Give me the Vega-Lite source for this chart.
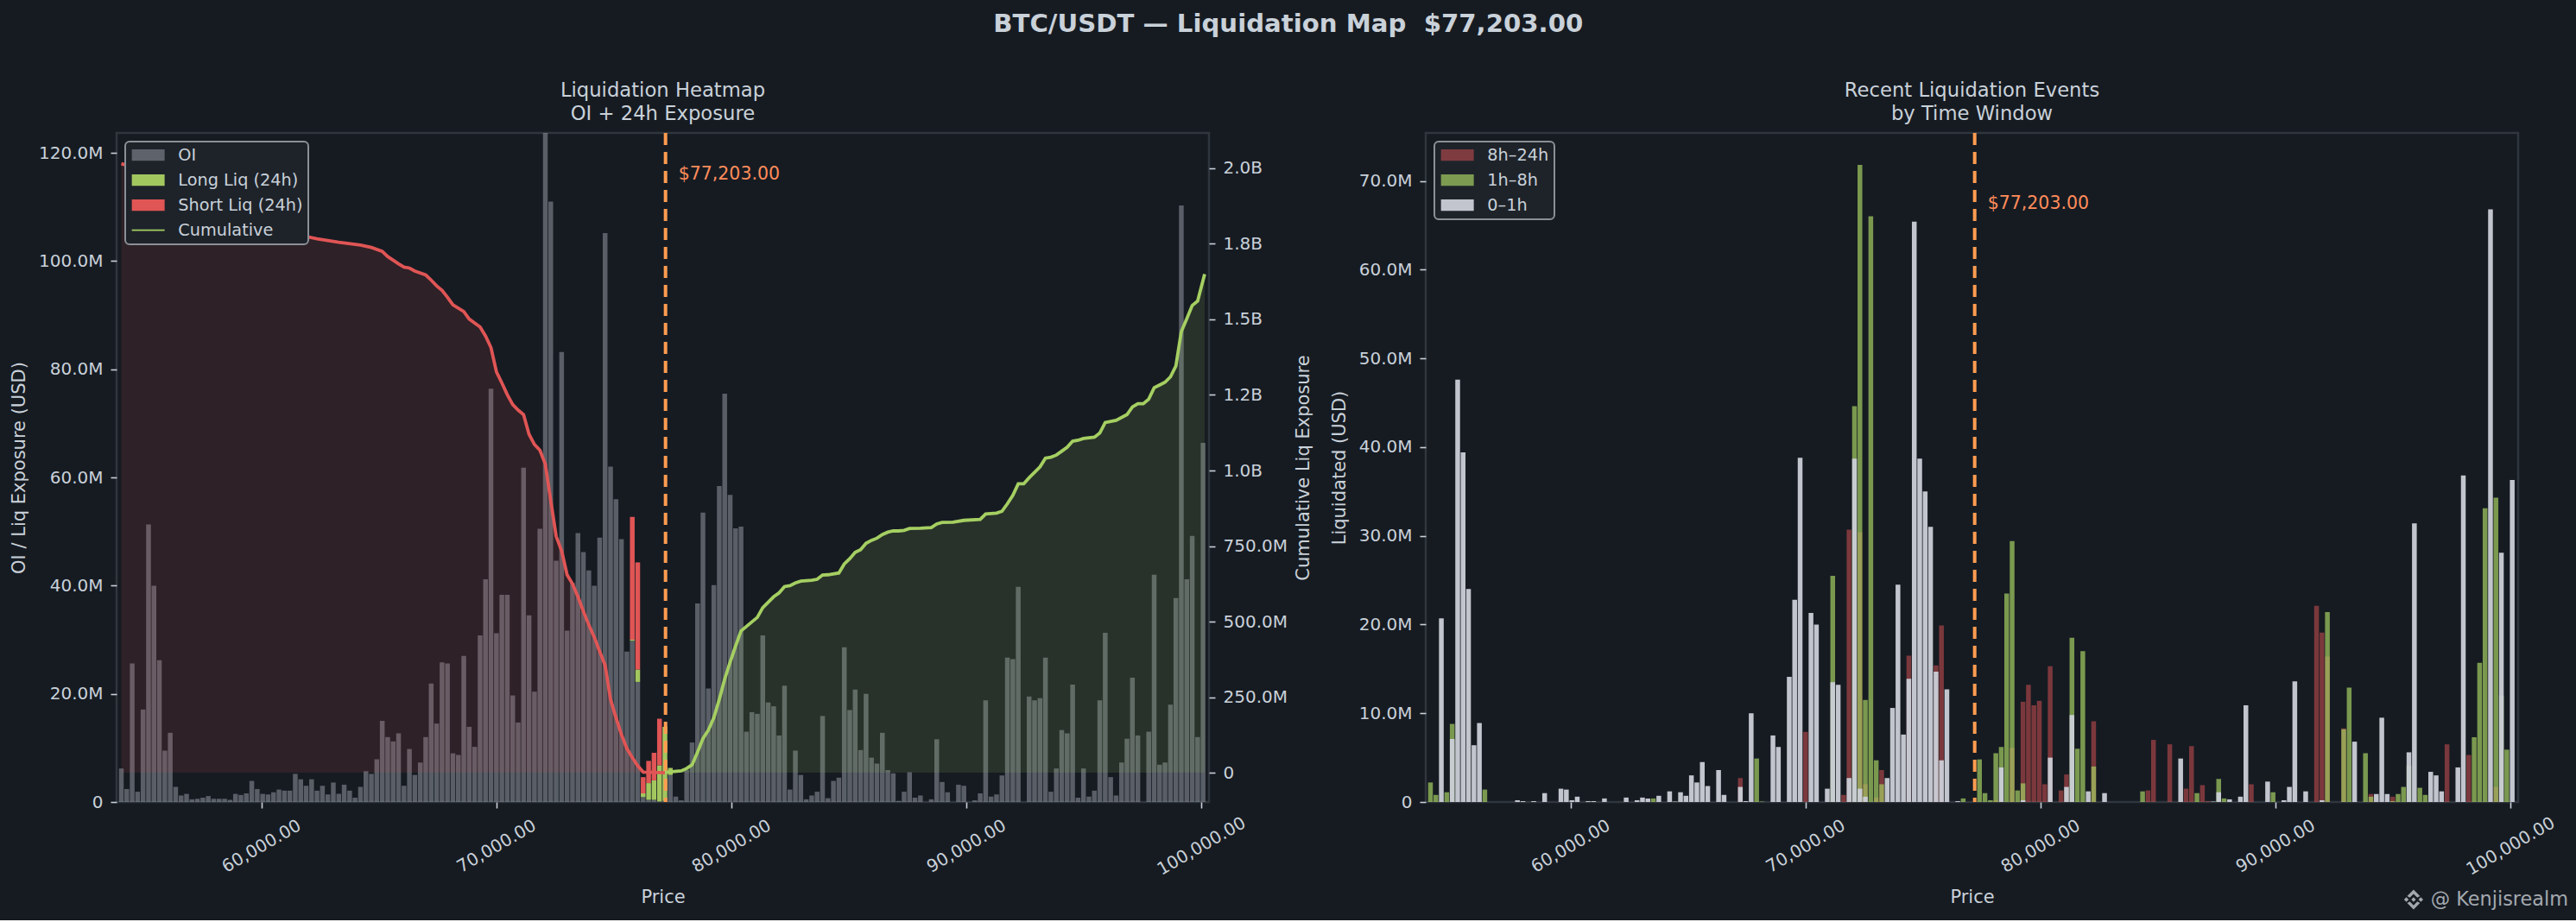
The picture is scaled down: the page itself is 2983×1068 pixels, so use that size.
{
  "$schema": "https://vega.github.io/schema/vega-lite/v6.json",
  "background": "#161b22",
  "padding": {"left": 10, "top": 13, "right": 8, "bottom": 11},
  "bounds": "flush",
  "spacing": 251,
  "resolve": {"scale": {"color": "independent"}, "legend": {"color": "independent"}},
  "title": {
    "text": "BTC/USDT — Liquidation Map \u00a0$77,203.00",
    "fontSize": 29.2,
    "fontWeight": "bold",
    "font": "DejaVu Sans",
    "color": "#c9d1d9",
    "anchor": "middle",
    "offset": 50,
    "dx": -1
  },
  "config": {
    "font": "DejaVu Sans",
    "view": {"stroke": "#30363d", "strokeWidth": 2.5, "fill": "#161b22"},
    "axis": {
      "grid": false,
      "domain": false,
      "tickColor": "#c9d1d9",
      "tickSize": 7,
      "tickWidth": 1.6,
      "labelColor": "#c9d1d9",
      "labelFontSize": 20,
      "labelPadding": 9,
      "titleColor": "#c9d1d9",
      "titleFontSize": 21,
      "titleFontWeight": "normal",
      "labelOverlap": false,
      "labelFlush": false,
      "labelBound": false
    },
    "axisX": {"labelAngle": -30, "labelAlign": "center", "labelBaseline": "middle", "labelPadding": 44, "titlePadding": 11},
    "legend": {
      "orient": "none",
      "title": null,
      "legendX": 10,
      "legendY": 10,
      "padding": 6,
      "fillColor": "#1e232a",
      "strokeColor": "#8b9097",
      "strokeWidth": 2,
      "cornerRadius": 5,
      "labelColor": "#c9d1d9",
      "labelFontSize": 19.3,
      "symbolSize": 361,
      "symbolStrokeWidth": 0,
      "symbolOffset": 11,
      "labelOffset": 25,
      "rowPadding": 9,
      "zindex": 0
    },
    "title": {"font": "DejaVu Sans"}
  },
  "datasets": {
    "spot": [{"price": 77203, "label": "$77,203.00"}],
    "mark": [{"price": 96606, "handle": "@ Kenjisrealm"}],
    "icon": [{"price": 95880}],
    "oi": [
      {"price":54044,"oi":6.2},{"price":54275,"oi":2.4},{"price":54507,"oi":25.6},{"price":54738,"oi":1.9},{"price":54969,"oi":17.1},
      {"price":55201,"oi":51.3},{"price":55432,"oi":40},{"price":55663,"oi":26.2},{"price":55895,"oi":9.5},{"price":56126,"oi":12.8},
      {"price":56357,"oi":2.8},{"price":56589,"oi":1.2},{"price":56820,"oi":1.5},{"price":57051,"oi":0.5},{"price":57283,"oi":0.6},
      {"price":57514,"oi":0.8},{"price":57745,"oi":1.1},{"price":57977,"oi":0.6},{"price":58208,"oi":0.6},{"price":58439,"oi":0.6},
      {"price":58671,"oi":0.4},{"price":58902,"oi":1.5},{"price":59133,"oi":1.3},{"price":59365,"oi":1.6},{"price":59596,"oi":3.9},
      {"price":59827,"oi":2.4},{"price":60059,"oi":1.5},{"price":60290,"oi":1.4},{"price":60521,"oi":1.8},{"price":60753,"oi":2.3},
      {"price":60984,"oi":2.1},{"price":61215,"oi":2.1},{"price":61447,"oi":5.2},{"price":61678,"oi":4.2},{"price":61909,"oi":3},
      {"price":62141,"oi":4.2},{"price":62372,"oi":2.1},{"price":62603,"oi":3},{"price":62835,"oi":1.4},{"price":63066,"oi":3.6},
      {"price":63297,"oi":1.5},{"price":63528,"oi":3.2},{"price":63760,"oi":2.1},{"price":63991,"oi":0.8},{"price":64222,"oi":2.8},
      {"price":64454,"oi":5.7},{"price":64685,"oi":5.2},{"price":64916,"oi":7.9},{"price":65148,"oi":15},{"price":65379,"oi":12},
      {"price":65611,"oi":11.2},{"price":65842,"oi":12.7},{"price":66073,"oi":3},{"price":66304,"oi":9.8},{"price":66536,"oi":5},
      {"price":66767,"oi":7.3},{"price":66998,"oi":12},{"price":67230,"oi":21.9},{"price":67461,"oi":14.5},{"price":67692,"oi":25.8},
      {"price":67924,"oi":25.6},{"price":68155,"oi":9},{"price":68386,"oi":8.7},{"price":68618,"oi":27},{"price":68849,"oi":13.9},
      {"price":69080,"oi":10.2},{"price":69312,"oi":30.8},{"price":69543,"oi":41.2},{"price":69774,"oi":76.4},{"price":70006,"oi":31.2},
      {"price":70237,"oi":38.3},{"price":70468,"oi":38.3},{"price":70700,"oi":19.7},{"price":70931,"oi":14.7},{"price":71162,"oi":61.8},
      {"price":71394,"oi":34.5},{"price":71625,"oi":20.4},{"price":71856,"oi":50.5},{"price":72088,"oi":125},{"price":72319,"oi":111},
      {"price":72550,"oi":44.6},{"price":72782,"oi":83.2},{"price":73013,"oi":31.7},{"price":73244,"oi":40.5},{"price":73476,"oi":49.7},
      {"price":73707,"oi":46.2},{"price":73938,"oi":42.8},{"price":74170,"oi":40},{"price":74401,"oi":48.9},{"price":74632,"oi":105.2},
      {"price":74864,"oi":62},{"price":75095,"oi":56},{"price":75326,"oi":48.6},{"price":75558,"oi":27.8},{"price":75789,"oi":29.8},
      {"price":76020,"oi":22.2},{"price":76252,"oi":0.9},{"price":76483,"oi":0.4},{"price":76714,"oi":0.4},{"price":76946,"oi":0.1},
      {"price":77177,"oi":0.2},{"price":77408,"oi":5},{"price":77640,"oi":1},{"price":77871,"oi":0.3},{"price":78102,"oi":5.9},
      {"price":78334,"oi":11},{"price":78565,"oi":36.7},{"price":78796,"oi":53.5},{"price":79028,"oi":21},{"price":79259,"oi":40.1},
      {"price":79490,"oi":58.4},{"price":79722,"oi":75.5},{"price":79953,"oi":56.8},{"price":80184,"oi":50.6},{"price":80416,"oi":50.9},
      {"price":80647,"oi":13},{"price":80878,"oi":16.6},{"price":81110,"oi":16.3},{"price":81341,"oi":30.8},{"price":81572,"oi":18.4},
      {"price":81804,"oi":17.7},{"price":82035,"oi":12.3},{"price":82266,"oi":21.5},{"price":82498,"oi":2.3},{"price":82729,"oi":9.5},
      {"price":82960,"oi":5},{"price":83192,"oi":0.5},{"price":83423,"oi":1.2},{"price":83654,"oi":1.9},{"price":83886,"oi":15.9},
      {"price":84117,"oi":0.7},{"price":84348,"oi":3.9},{"price":84580,"oi":4.5},{"price":84811,"oi":28.6},{"price":85042,"oi":17},
      {"price":85274,"oi":20.8},{"price":85505,"oi":9.6},{"price":85736,"oi":20},{"price":85968,"oi":8.2},{"price":86199,"oi":7.1},
      {"price":86430,"oi":12.8},{"price":86662,"oi":5.9},{"price":86893,"oi":5.3},{"price":87124,"oi":0.2},{"price":87356,"oi":1.9},
      {"price":87587,"oi":5.5},{"price":87818,"oi":0.8},{"price":88050,"oi":1.2},{"price":88281,"oi":0},{"price":88512,"oi":0.5},
      {"price":88744,"oi":11.6},{"price":88975,"oi":3.7},{"price":89206,"oi":1.8},{"price":89438,"oi":0},{"price":89669,"oi":3.2},
      {"price":89900,"oi":3},{"price":90132,"oi":0},{"price":90363,"oi":0.3},{"price":90594,"oi":1.6},{"price":90826,"oi":18.8},
      {"price":91057,"oi":1},{"price":91288,"oi":1.4},{"price":91520,"oi":4.9},{"price":91751,"oi":26.7},{"price":91982,"oi":26.4},
      {"price":92213,"oi":39.8},{"price":92445,"oi":0},{"price":92676,"oi":19.5},{"price":92907,"oi":18.8},{"price":93139,"oi":19.2},
      {"price":93370,"oi":26.7},{"price":93601,"oi":1.9},{"price":93833,"oi":6.2},{"price":94064,"oi":13.3},{"price":94295,"oi":12.7},
      {"price":94527,"oi":21.7},{"price":94758,"oi":0.8},{"price":94989,"oi":6.2},{"price":95221,"oi":1},{"price":95452,"oi":2.1},
      {"price":95683,"oi":18.8},{"price":95915,"oi":31.3},{"price":96146,"oi":4.6},{"price":96377,"oi":1.2},{"price":96609,"oi":7.3},
      {"price":96840,"oi":11.7},{"price":97071,"oi":23},{"price":97303,"oi":12.3},{"price":97534,"oi":0},{"price":97765,"oi":13},
      {"price":97997,"oi":42},{"price":98228,"oi":6.9},{"price":98459,"oi":7.3},{"price":98691,"oi":18},{"price":98922,"oi":37.7},
      {"price":99153,"oi":110.3},{"price":99385,"oi":41.2},{"price":99616,"oi":49.2},{"price":99847,"oi":12},{"price":100079,"oi":66.4}
    ],
    "liq": [
      {"price":75789,"side":"Long Liq (24h)","lo":29.8,"hi":30},
      {"price":76020,"side":"Long Liq (24h)","lo":22.2,"hi":24.5},
      {"price":76252,"side":"Long Liq (24h)","lo":0.9,"hi":1.6},
      {"price":76483,"side":"Long Liq (24h)","lo":0.4,"hi":3.5},
      {"price":76714,"side":"Long Liq (24h)","lo":0.4,"hi":4},
      {"price":76946,"side":"Long Liq (24h)","lo":0.1,"hi":6.8},
      {"price":77177,"side":"Long Liq (24h)","lo":0.2,"hi":13.9},
      {"price":77408,"side":"Long Liq (24h)","lo":5,"hi":6.3},
      {"price":75789,"side":"Short Liq (24h)","lo":30,"hi":52.7},
      {"price":76020,"side":"Short Liq (24h)","lo":24.5,"hi":44.3},
      {"price":76252,"side":"Short Liq (24h)","lo":1.6,"hi":4.6},
      {"price":76483,"side":"Short Liq (24h)","lo":3.5,"hi":7.6},
      {"price":76714,"side":"Short Liq (24h)","lo":4,"hi":9.1},
      {"price":76946,"side":"Short Liq (24h)","lo":6.8,"hi":15.4}
    ],
    "cum_short": [
      {"price":54044,"cum":2015},{"price":54507,"cum":2005},{"price":54738,"cum":1979},{"price":54969,"cum":1975},{"price":55201,"cum":1959},
      {"price":55432,"cum":1891},{"price":55663,"cum":1864},{"price":55895,"cum":1841},{"price":56126,"cum":1831},{"price":56357,"cum":1818},
      {"price":57051,"cum":1814},{"price":57977,"cum":1811},{"price":59133,"cum":1803},{"price":60290,"cum":1793},{"price":61447,"cum":1782},
      {"price":62372,"cum":1767},{"price":63297,"cum":1755},{"price":64222,"cum":1746},{"price":64685,"cum":1738},{"price":65148,"cum":1725},
      {"price":65379,"cum":1708},{"price":65842,"cum":1684},{"price":66073,"cum":1673},{"price":66304,"cum":1670},{"price":66536,"cum":1660},
      {"price":66998,"cum":1647},{"price":67230,"cum":1630},{"price":67461,"cum":1611},{"price":67692,"cum":1596},{"price":67924,"cum":1573},
      {"price":68155,"cum":1548},{"price":68618,"cum":1526},{"price":68849,"cum":1501},{"price":69312,"cum":1475},{"price":69543,"cum":1445},
      {"price":69774,"cum":1407},{"price":70006,"cum":1327},{"price":70237,"cum":1290},{"price":70468,"cum":1251},{"price":70700,"cum":1218},
      {"price":70931,"cum":1200},{"price":71162,"cum":1185},{"price":71394,"cum":1120},{"price":71625,"cum":1086},{"price":71856,"cum":1067},
      {"price":72088,"cum":1021},{"price":72319,"cum":900},{"price":72550,"cum":782},{"price":72782,"cum":734},{"price":73013,"cum":655},
      {"price":73244,"cum":625},{"price":73476,"cum":582},{"price":73707,"cum":534},{"price":73938,"cum":489},{"price":74170,"cum":449},
      {"price":74401,"cum":401},{"price":74632,"cum":356},{"price":74864,"cum":242},{"price":75095,"cum":182},{"price":75326,"cum":126},
      {"price":75558,"cum":80},{"price":75789,"cum":50},{"price":76020,"cum":23},{"price":76252,"cum":2},{"price":77177,"cum":0}
    ],
    "cum_long": [
      {"price":77177,"cum":1.5},{"price":77871,"cum":6},{"price":78102,"cum":14},{"price":78334,"cum":26},{"price":78565,"cum":68},
      {"price":78796,"cum":113},{"price":79028,"cum":141},{"price":79259,"cum":182},{"price":79490,"cum":242},{"price":79722,"cum":310},
      {"price":79953,"cum":366},{"price":80184,"cum":419},{"price":80416,"cum":469},{"price":80647,"cum":484},{"price":80878,"cum":499},
      {"price":81110,"cum":514},{"price":81341,"cum":546},{"price":81572,"cum":564},{"price":81804,"cum":582},{"price":82035,"cum":595},
      {"price":82266,"cum":616},{"price":82498,"cum":619},{"price":82729,"cum":628},{"price":82960,"cum":634},{"price":83423,"cum":637},
      {"price":83654,"cum":640},{"price":83886,"cum":654},{"price":84117,"cum":655},{"price":84580,"cum":661},{"price":84811,"cum":691},
      {"price":85042,"cum":708},{"price":85274,"cum":729},{"price":85505,"cum":738},{"price":85736,"cum":759},{"price":85968,"cum":769},
      {"price":86199,"cum":776},{"price":86430,"cum":788},{"price":86662,"cum":796},{"price":86893,"cum":800},{"price":87124,"cum":800},
      {"price":87356,"cum":802},{"price":87587,"cum":808},{"price":88050,"cum":809},{"price":88512,"cum":811},{"price":88744,"cum":823},
      {"price":88975,"cum":828},{"price":89438,"cum":829},{"price":89900,"cum":835},{"price":90594,"cum":838},{"price":90826,"cum":856},
      {"price":91288,"cum":859},{"price":91520,"cum":865},{"price":91751,"cum":890},{"price":91982,"cum":918},{"price":92213,"cum":956},
      {"price":92445,"cum":956},{"price":92676,"cum":976},{"price":92907,"cum":994},{"price":93139,"cum":1012},{"price":93370,"cum":1041},
      {"price":93601,"cum":1044},{"price":93833,"cum":1051},{"price":94064,"cum":1064},{"price":94295,"cum":1077},{"price":94527,"cum":1097},
      {"price":94758,"cum":1100},{"price":94989,"cum":1106},{"price":95452,"cum":1110},{"price":95683,"cum":1124},{"price":95915,"cum":1159},
      {"price":96377,"cum":1166},{"price":96840,"cum":1185},{"price":97071,"cum":1210},{"price":97303,"cum":1221},{"price":97534,"cum":1221},
      {"price":97765,"cum":1236},{"price":97997,"cum":1274},{"price":98228,"cum":1283},{"price":98459,"cum":1292},{"price":98691,"cum":1310},
      {"price":98922,"cum":1346},{"price":99153,"cum":1460},{"price":99385,"cum":1502},{"price":99616,"cum":1546},{"price":99847,"cum":1561},
      {"price":100079,"cum":1630},{"price":100146,"cum":1650}
    ],
    "windows": [
      {"price":67230,"window":"8h–24h","usd":2.7},{"price":70006,"window":"8h–24h","usd":7.9},{"price":71625,"window":"8h–24h","usd":0.8},
      {"price":71856,"window":"8h–24h","usd":30.7},{"price":72319,"window":"8h–24h","usd":30.4},{"price":72550,"window":"8h–24h","usd":2},
      {"price":73013,"window":"8h–24h","usd":0.5},{"price":73244,"window":"8h–24h","usd":3.6},{"price":74401,"window":"8h–24h","usd":16.5},
      {"price":75558,"window":"8h–24h","usd":15.4},{"price":75789,"window":"8h–24h","usd":19.9},{"price":78102,"window":"8h–24h","usd":0.2},
      {"price":78796,"window":"8h–24h","usd":6.1},{"price":79259,"window":"8h–24h","usd":11.3},{"price":79490,"window":"8h–24h","usd":13.2},
      {"price":79722,"window":"8h–24h","usd":10.9},{"price":79953,"window":"8h–24h","usd":11.4},{"price":80184,"window":"8h–24h","usd":2},
      {"price":80416,"window":"8h–24h","usd":15.3},{"price":80878,"window":"8h–24h","usd":1.3},{"price":81110,"window":"8h–24h","usd":3.1},
      {"price":82266,"window":"8h–24h","usd":9.1},{"price":84580,"window":"8h–24h","usd":1.3},{"price":84811,"window":"8h–24h","usd":7},
      {"price":85505,"window":"8h–24h","usd":6.5},{"price":86199,"window":"8h–24h","usd":1.5},{"price":86430,"window":"8h–24h","usd":6.3},
      {"price":86893,"window":"8h–24h","usd":1.9},{"price":87124,"window":"8h–24h","usd":0.1},{"price":88975,"window":"8h–24h","usd":2},
      {"price":91751,"window":"8h–24h","usd":22.1},{"price":91982,"window":"8h–24h","usd":19.1},{"price":92213,"window":"8h–24h","usd":16.4},
      {"price":92907,"window":"8h–24h","usd":8.3},{"price":94064,"window":"8h–24h","usd":0.9},{"price":94989,"window":"8h–24h","usd":0.6},
      {"price":97303,"window":"8h–24h","usd":6.5},{"price":98228,"window":"8h–24h","usd":5.3},{"price":99385,"window":"8h–24h","usd":1.7},

      {"price":54044,"window":"1h–8h","usd":2.2},{"price":54275,"window":"1h–8h","usd":0.8},{"price":54738,"window":"1h–8h","usd":1.1},
      {"price":54969,"window":"1h–8h","usd":8.8},{"price":56357,"window":"1h–8h","usd":1.4},{"price":63528,"window":"1h–8h","usd":0.4},
      {"price":67924,"window":"1h–8h","usd":4.9},{"price":68155,"window":"1h–8h","usd":0.05},{"price":71162,"window":"1h–8h","usd":25.5},
      {"price":72088,"window":"1h–8h","usd":44.6},{"price":72319,"window":"1h–8h","usd":71.8},{"price":72550,"window":"1h–8h","usd":11.5},
      {"price":72782,"window":"1h–8h","usd":66},{"price":73013,"window":"1h–8h","usd":4.7},{"price":73244,"window":"1h–8h","usd":2},
      {"price":76714,"window":"1h–8h","usd":0.4},{"price":77408,"window":"1h–8h","usd":4.8},{"price":77640,"window":"1h–8h","usd":1},
      {"price":77871,"window":"1h–8h","usd":0.2},{"price":78102,"window":"1h–8h","usd":5.5},{"price":78334,"window":"1h–8h","usd":6.2},
      {"price":78565,"window":"1h–8h","usd":23.5},{"price":78796,"window":"1h–8h","usd":29.4},{"price":79028,"window":"1h–8h","usd":1.3},
      {"price":79259,"window":"1h–8h","usd":2.1},{"price":81341,"window":"1h–8h","usd":18.5},{"price":81572,"window":"1h–8h","usd":6},
      {"price":81804,"window":"1h–8h","usd":17},{"price":82266,"window":"1h–8h","usd":4},{"price":84348,"window":"1h–8h","usd":1.2},
      {"price":86662,"window":"1h–8h","usd":1},{"price":87587,"window":"1h–8h","usd":2.6},{"price":87818,"window":"1h–8h","usd":0.4},
      {"price":89900,"window":"1h–8h","usd":1.1},{"price":92213,"window":"1h–8h","usd":21.4},{"price":92907,"window":"1h–8h","usd":8.2},
      {"price":93139,"window":"1h–8h","usd":12.9},{"price":93833,"window":"1h–8h","usd":5.5},{"price":94064,"window":"1h–8h","usd":0.6},
      {"price":94989,"window":"1h–8h","usd":0.1},{"price":95221,"window":"1h–8h","usd":0.9},{"price":95452,"window":"1h–8h","usd":1.7},
      {"price":95683,"window":"1h–8h","usd":4.1},{"price":96146,"window":"1h–8h","usd":1.6},{"price":96377,"window":"1h–8h","usd":0.8},
      {"price":98459,"window":"1h–8h","usd":7.3},{"price":98691,"window":"1h–8h","usd":15.7},{"price":98922,"window":"1h–8h","usd":33.1},
      {"price":99385,"window":"1h–8h","usd":34.3},{"price":99616,"window":"1h–8h","usd":12},{"price":99847,"window":"1h–8h","usd":5.9},

      {"price":54507,"window":"0–1h","usd":20.7},{"price":54969,"window":"0–1h","usd":7.1},{"price":55201,"window":"0–1h","usd":47.6},
      {"price":55432,"window":"0–1h","usd":39.4},{"price":55663,"window":"0–1h","usd":24},{"price":55895,"window":"0–1h","usd":6.4},
      {"price":56126,"window":"0–1h","usd":8.9},{"price":57745,"window":"0–1h","usd":0.2},{"price":57977,"window":"0–1h","usd":0.1},
      {"price":58439,"window":"0–1h","usd":0.1},{"price":58902,"window":"0–1h","usd":1},{"price":59596,"window":"0–1h","usd":1.5},
      {"price":59827,"window":"0–1h","usd":1.4},{"price":60059,"window":"0–1h","usd":0.2},{"price":60290,"window":"0–1h","usd":0.6},
      {"price":60753,"window":"0–1h","usd":0.1},{"price":60984,"window":"0–1h","usd":0.1},{"price":61447,"window":"0–1h","usd":0.4},
      {"price":62372,"window":"0–1h","usd":0.5},{"price":62835,"window":"0–1h","usd":0.2},{"price":63066,"window":"0–1h","usd":0.5},
      {"price":63297,"window":"0–1h","usd":0.4},{"price":63760,"window":"0–1h","usd":0.7},{"price":64222,"window":"0–1h","usd":1.2},
      {"price":64454,"window":"0–1h","usd":0.05},{"price":64685,"window":"0–1h","usd":1.1},{"price":64916,"window":"0–1h","usd":0.7},
      {"price":65148,"window":"0–1h","usd":3},{"price":65379,"window":"0–1h","usd":2.2},{"price":65611,"window":"0–1h","usd":4.5},
      {"price":65842,"window":"0–1h","usd":1.8},{"price":66304,"window":"0–1h","usd":3.6},{"price":66536,"window":"0–1h","usd":0.8},
      {"price":67230,"window":"0–1h","usd":1.7},{"price":67461,"window":"0–1h","usd":0.1},{"price":67692,"window":"0–1h","usd":10},
      {"price":68618,"window":"0–1h","usd":7.5},{"price":68849,"window":"0–1h","usd":6.2},{"price":69312,"window":"0–1h","usd":14.1},
      {"price":69543,"window":"0–1h","usd":22.8},{"price":69774,"window":"0–1h","usd":38.8},{"price":70237,"window":"0–1h","usd":21.3},
      {"price":70468,"window":"0–1h","usd":20},{"price":70931,"window":"0–1h","usd":1.5},{"price":71162,"window":"0–1h","usd":13.5},
      {"price":71394,"window":"0–1h","usd":13.2},{"price":71856,"window":"0–1h","usd":2.7},{"price":72088,"window":"0–1h","usd":38.7},
      {"price":72319,"window":"0–1h","usd":1.5},{"price":72550,"window":"0–1h","usd":0.6},{"price":73476,"window":"0–1h","usd":2.7},
      {"price":73707,"window":"0–1h","usd":10.6},{"price":73938,"window":"0–1h","usd":24.5},{"price":74170,"window":"0–1h","usd":7.6},
      {"price":74401,"window":"0–1h","usd":13.9},{"price":74632,"window":"0–1h","usd":65.4},{"price":74864,"window":"0–1h","usd":38.7},
      {"price":75095,"window":"0–1h","usd":35},{"price":75326,"window":"0–1h","usd":31},{"price":75558,"window":"0–1h","usd":14.7},
      {"price":75789,"window":"0–1h","usd":4.7},{"price":76020,"window":"0–1h","usd":12.7},{"price":76483,"window":"0–1h","usd":0.1},
      {"price":78334,"window":"0–1h","usd":3.9},{"price":79259,"window":"0–1h","usd":0.2},{"price":80416,"window":"0–1h","usd":5},
      {"price":81110,"window":"0–1h","usd":1.7},{"price":81341,"window":"0–1h","usd":9.8},{"price":82035,"window":"0–1h","usd":1.2},
      {"price":82729,"window":"0–1h","usd":1},{"price":85968,"window":"0–1h","usd":4.9},{"price":87356,"window":"0–1h","usd":0.05},
      {"price":87587,"window":"0–1h","usd":1.1},{"price":88050,"window":"0–1h","usd":0.3},{"price":88512,"window":"0–1h","usd":0.6},
      {"price":88744,"window":"0–1h","usd":10.9},{"price":89669,"window":"0–1h","usd":2.3},{"price":90363,"window":"0–1h","usd":0.2},
      {"price":90594,"window":"0–1h","usd":1.7},{"price":90826,"window":"0–1h","usd":13.6},{"price":91288,"window":"0–1h","usd":1.2},
      {"price":91982,"window":"0–1h","usd":0.2},{"price":93370,"window":"0–1h","usd":6.8},{"price":94295,"window":"0–1h","usd":0.9},
      {"price":94527,"window":"0–1h","usd":9.5},{"price":94758,"window":"0–1h","usd":0.9},{"price":95683,"window":"0–1h","usd":5.6},
      {"price":95915,"window":"0–1h","usd":31.4},{"price":96609,"window":"0–1h","usd":3.4},{"price":96840,"window":"0–1h","usd":3},
      {"price":97071,"window":"0–1h","usd":1.2},{"price":97765,"window":"0–1h","usd":3.9},{"price":97997,"window":"0–1h","usd":36.8},
      {"price":99153,"window":"0–1h","usd":66.8},{"price":99616,"window":"0–1h","usd":28.1},{"price":100079,"window":"0–1h","usd":36.3}
    ]
  },
  "hconcat": [
    {
      "width": 1265,
      "height": 775,
      "title": {"text": ["Liquidation Heatmap", "OI + 24h Exposure"], "fontSize": 22.7, "fontWeight": "normal", "color": "#c9d1d9", "anchor": "middle", "offset": 8, "lineHeight": 27},
      "layer": [
        {
          "layer": [
            {
              "data": {"name": "oi"},
              "mark": {"type": "bar", "width": 5.5, "clip": true},
              "encoding": {
                "x": {
                  "field": "price", "type": "quantitative", "title": "Price",
                  "scale": {"domain": [54026, 100146], "nice": false, "zero": false},
                  "axis": {"values": [60000, 70000, 80000, 90000, 100000], "format": ",.2f"}
                },
                "y": {
                  "field": "oi", "type": "quantitative", "title": "OI / Liq Exposure (USD)",
                  "scale": {"domain": [0, 123.7], "nice": false},
                  "axis": {"values": [0, 20, 40, 60, 80, 100, 120], "labelExpr": "datum.value === 0 ? '0' : format(datum.value, '.1f') + 'M'", "titlePadding": 12}
                },
                "color": {
                  "datum": "OI", "type": "nominal",
                  "scale": {
                    "domain": ["OI", "Long Liq (24h)", "Short Liq (24h)", "Cumulative"],
                    "range": ["rgba(155,162,172,0.5)", "#a3c75f", "#e05555", "#a5cf62"]
                  },
                  "legend": {
                    "encode": {"symbols": {"update": {"shape": {"signal": "datum.value === 'Cumulative' ? 'M-2,-0.1H2V0.1H-2Z' : 'M-2,-0.7H2V0.7H-2Z'"}}}}
                  }
                }
              }
            },
            {
              "data": {"name": "liq"},
              "mark": {"type": "bar", "width": 5.5, "clip": true},
              "encoding": {
                "x": {"field": "price", "type": "quantitative"},
                "y": {"field": "lo", "type": "quantitative"},
                "y2": {"field": "hi"},
                "color": {"field": "side", "type": "nominal"}
              }
            },
            {
              "data": {"name": "spot"},
              "mark": {"type": "rule", "stroke": "#ff9c50", "strokeWidth": 4, "strokeDash": [14, 8]},
              "encoding": {"x": {"field": "price", "type": "quantitative"}}
            },
            {
              "data": {"name": "spot"},
              "mark": {"type": "text", "color": "#ff8c5a", "fontSize": 20.5, "align": "left", "baseline": "middle", "dx": 15},
              "encoding": {
                "x": {"field": "price", "type": "quantitative"},
                "y": {"datum": 116, "type": "quantitative"},
                "text": {"field": "label"}
              }
            }
          ]
        },
        {
          "layer": [
            {
              "data": {"name": "cum_short"},
              "mark": {"type": "area", "color": "rgba(224,85,85,0.12)", "clip": true},
              "encoding": {
                "x": {"field": "price", "type": "quantitative"},
                "y": {
                  "field": "cum", "type": "quantitative", "title": "Cumulative Liq Exposure",
                  "scale": {"domain": [-97, 2117], "nice": false, "zero": false},
                  "axis": {
                    "orient": "right",
                    "values": [0, 250, 500, 750, 1000, 1250, 1500, 1750, 2000],
                    "labelExpr": "datum.value === 0 ? '0' : datum.value === 1250 ? '1.2B' : datum.value === 1750 ? '1.8B' : datum.value >= 1000 ? format(datum.value / 1000, '.1f') + 'B' : format(datum.value, '.1f') + 'M'",
                    "titleAngle": -90,
                    "titlePadding": 29
                  }
                },
                "y2": {"datum": 0}
              }
            },
            {
              "data": {"name": "cum_long"},
              "mark": {"type": "area", "color": "rgba(165,207,98,0.13)", "clip": true},
              "encoding": {
                "x": {"field": "price", "type": "quantitative"},
                "y": {"field": "cum", "type": "quantitative"},
                "y2": {"datum": 0}
              }
            },
            {
              "data": {"name": "cum_short"},
              "mark": {"type": "line", "stroke": "#e05555", "strokeWidth": 3.8, "clip": true},
              "encoding": {
                "x": {"field": "price", "type": "quantitative"},
                "y": {"field": "cum", "type": "quantitative"}
              }
            },
            {
              "data": {"name": "cum_long"},
              "mark": {"type": "line", "strokeWidth": 3.8, "clip": true},
              "encoding": {
                "x": {"field": "price", "type": "quantitative"},
                "y": {"field": "cum", "type": "quantitative"},
                "color": {"datum": "Cumulative", "type": "nominal"}
              }
            }
          ]
        }
      ],
      "resolve": {"scale": {"y": "independent"}}
    },
    {
      "width": 1265,
      "height": 775,
      "title": {"text": ["Recent Liquidation Events", "by Time Window"], "fontSize": 22.7, "fontWeight": "normal", "color": "#c9d1d9", "anchor": "middle", "offset": 8, "lineHeight": 27},
      "layer": [
        {
          "data": {"name": "windows"},
          "mark": {"type": "bar", "width": 5.5, "clip": true},
          "encoding": {
            "x": {
              "field": "price", "type": "quantitative", "title": "Price",
              "scale": {"domain": [54026, 100146], "nice": false, "zero": false},
              "axis": {"values": [60000, 70000, 80000, 90000, 100000], "format": ",.2f"}
            },
            "y": {
              "field": "usd", "type": "quantitative", "title": "Liquidated (USD)", "stack": null,
              "scale": {"domain": [0, 75.4], "nice": false},
              "axis": {"values": [0, 10, 20, 30, 40, 50, 60, 70], "labelExpr": "datum.value === 0 ? '0' : format(datum.value, '.1f') + 'M'", "titlePadding": 12}
            },
            "color": {
              "field": "window", "type": "nominal",
              "scale": {
                "domain": ["8h–24h", "1h–8h", "0–1h"],
                "range": ["rgba(224,85,85,0.5)", "rgba(165,207,98,0.7)", "rgba(203,207,215,0.95)"]
              },
              "legend": {
                "encode": {"symbols": {"update": {"shape": {"value": "M-2,-0.7H2V0.7H-2Z"}}}}
              }
            }
          }
        },
        {
          "data": {"name": "spot"},
          "mark": {"type": "rule", "stroke": "#ff9c50", "strokeWidth": 4, "strokeDash": [14, 8]},
          "encoding": {"x": {"field": "price", "type": "quantitative"}}
        },
        {
          "data": {"name": "spot"},
          "mark": {"type": "text", "color": "#ff8c5a", "fontSize": 20.5, "align": "left", "baseline": "middle", "dx": 15},
          "encoding": {
            "x": {"field": "price", "type": "quantitative"},
            "y": {"datum": 67.4, "type": "quantitative"},
            "text": {"field": "label"}
          }
        },
        {
          "data": {"name": "mark"},
          "mark": {"type": "text", "color": "#a3a8ae", "fontSize": 22.4, "align": "left", "baseline": "middle"},
          "encoding": {
            "x": {"field": "price", "type": "quantitative"},
            "y": {"datum": -11, "type": "quantitative"},
            "text": {"field": "handle"}
          }
        },
        {
          "data": {"name": "icon"},
          "mark": {
            "type": "point", "filled": true, "color": "#a3a8ae", "opacity": 1, "size": 729,
            "shape": "M0,-0.2L0.2,0L0,0.2L-0.2,0ZM-0.62,-0.2L-0.42,0L-0.62,0.2L-0.82,0ZM0.62,-0.2L0.82,0L0.62,0.2L0.42,0ZM0,-0.85L0.55,-0.3L0.32,-0.17L0,-0.49L-0.32,-0.17L-0.55,-0.3ZM0,0.85L0.55,0.3L0.32,0.17L0,0.49L-0.32,0.17L-0.55,0.3Z"
          },
          "encoding": {
            "x": {"field": "price", "type": "quantitative"},
            "y": {"datum": -11, "type": "quantitative"}
          }
        }
      ]
    }
  ]
}
